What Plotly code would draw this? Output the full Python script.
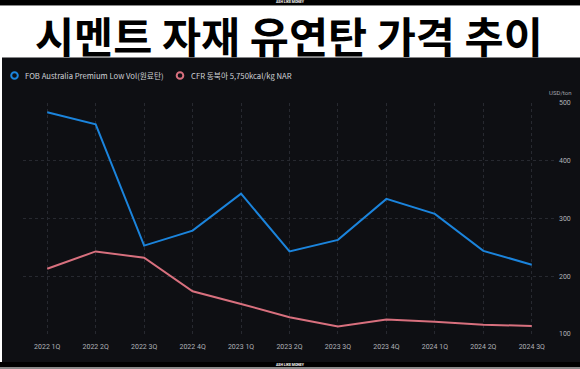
import plotly.graph_objects as go

categories = ["2022 1Q", "2022 2Q", "2022 3Q", "2022 4Q", "2023 1Q", "2023 2Q",
              "2023 3Q", "2023 4Q", "2024 1Q", "2024 2Q", "2024 3Q"]
fob_values = [484, 463, 253, 279, 343, 243, 263, 334, 308, 244, 220]
cfr_values = [213, 243, 232, 174, 152, 129, 113, 125, 121, 116, 114]
y_ticks = [100, 200, 300, 400, 500]

title_text = "시멘트 자재 유연탄 가격 추이"
fob_name = "FOB Australia Premium Low Vol(원료탄)"
cfr_name = "CFR 동북아 5,750kcal/kg NAR"
unit_text = "USD/ton"
brand_text = "ASH LIKE MONEY"

BLUE = "#1b84dc"
PINK = "#d8707e"
PANEL = "#0e0f13"
GRID = "#272930"
W, H = 580, 369
ML, MR, MT, MB = 23, 24, 103, 35
PW, PH = W - ML - MR, H - MT - MB

x_idx = list(range(len(categories)))

fig = go.Figure()
fig.add_trace(go.Scatter(x=x_idx, y=fob_values, mode="lines", name=fob_name,
                         line=dict(color=BLUE, width=2), showlegend=False))
fig.add_trace(go.Scatter(x=x_idx, y=cfr_values, mode="lines", name=cfr_name,
                         line=dict(color=PINK, width=2), showlegend=False))

def px_x(p):
    return (p - ML) / PW

def px_y(p):
    return (H - MB - p) / PH

shapes = [
    dict(type="rect", xref="paper", yref="paper", x0=px_x(0), x1=px_x(W), y0=px_y(5), y1=px_y(0),
         fillcolor="#000000", line=dict(width=0), layer="below"),
    dict(type="rect", xref="paper", yref="paper", x0=px_x(0), x1=px_x(W), y0=px_y(6), y1=px_y(5),
         fillcolor="#8a8a8a", line=dict(width=0), layer="below"),
    dict(type="rect", xref="paper", yref="paper", x0=px_x(2), x1=px_x(W), y0=px_y(362), y1=px_y(57.5),
         fillcolor=PANEL, line=dict(width=0), layer="below"),
    dict(type="rect", xref="paper", yref="paper", x0=px_x(0), x1=px_x(W), y0=px_y(367), y1=px_y(362),
         fillcolor="#000000", line=dict(width=0), layer="below"),
    dict(type="rect", xref="paper", yref="paper", x0=px_x(0), x1=px_x(W), y0=px_y(H), y1=px_y(367),
         fillcolor="#8a8a8a", line=dict(width=0), layer="below"),
]

for cx, col in [(14.5, BLUE), (180, PINK)]:
    shapes.append(dict(type="circle", xref="paper", yref="paper",
                       xsizemode="pixel", ysizemode="pixel",
                       xanchor=px_x(cx), yanchor=px_y(75.5),
                       x0=-3.3, x1=3.3, y0=-3.3, y1=3.3,
                       line=dict(color=col, width=2), fillcolor=PANEL))

annotations = [
    dict(text="<b>" + title_text + "</b>", xref="paper", yref="paper",
         x=px_x(289), y=px_y(34), xanchor="center", yanchor="middle", showarrow=False,
         font=dict(family="Noto Sans CJK KR", size=42.5, color="#000000", weight=900)),
    dict(text=fob_name, xref="paper", yref="paper", x=px_x(23), y=px_y(75.5),
         xanchor="left", yanchor="middle", showarrow=False,
         font=dict(family="Noto Sans CJK KR", size=7.7, color="#cfd1d6")),
    dict(text=cfr_name, xref="paper", yref="paper", x=px_x(189), y=px_y(75.5),
         xanchor="left", yanchor="middle", showarrow=False,
         font=dict(family="Noto Sans CJK KR", size=7.7, color="#cfd1d6")),
    dict(text=unit_text, xref="paper", yref="paper", x=px_x(560), y=px_y(93),
         xanchor="center", yanchor="middle", showarrow=False,
         font=dict(family="Roboto", size=6, color="#a0a3aa")),
    dict(text="<b>" + brand_text + "</b>", xref="paper", yref="paper", x=px_x(290), y=px_y(2.5),
         xanchor="center", yanchor="middle", showarrow=False,
         font=dict(family="Roboto", size=3.5, color="#ffffff")),
    dict(text="<b>" + brand_text + "</b>", xref="paper", yref="paper", x=px_x(290), y=px_y(364.5),
         xanchor="center", yanchor="middle", showarrow=False,
         font=dict(family="Roboto", size=3.5, color="#ffffff")),
]

fig.update_layout(
    width=W, height=H,
    margin=dict(l=ML, r=MR, t=MT, b=MB, autoexpand=False),
    paper_bgcolor="#ffffff",
    plot_bgcolor=PANEL,
    shapes=shapes,
    annotations=annotations,
    showlegend=False,
    xaxis=dict(
        range=[-0.5, len(categories) - 0.5],
        tickmode="array", tickvals=x_idx, ticktext=categories,
        showgrid=True, gridcolor=GRID, griddash="dot", gridwidth=1,
        minor=dict(tickvals=[-0.5, len(categories) - 0.5], showgrid=True,
                   gridcolor=GRID, griddash="dot", gridwidth=1),
        zeroline=False, showline=False, ticks="",
        tickfont=dict(family="Roboto", size=7, color="#b0b2b8"),
        ticklabelstandoff=7,
    ),
    yaxis=dict(
        range=[100, 500], side="right",
        tickmode="array", tickvals=y_ticks,
        showgrid=True, gridcolor=GRID, griddash="dot", gridwidth=1,
        zeroline=False, showline=False, ticks="",
        tickfont=dict(family="Roboto", size=7, color="#b0b2b8"),
        ticklabelstandoff=2,
    ),
)

fig.write_html("out.html", config={"displayModeBar": False},
               post_script="document.body.style.margin='0';document.body.style.overflow='hidden';")
